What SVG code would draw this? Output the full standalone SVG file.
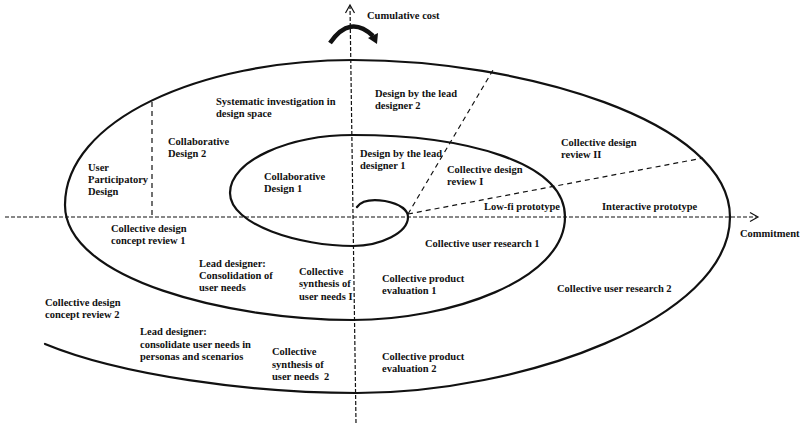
<svg xmlns="http://www.w3.org/2000/svg" width="800" height="426" viewBox="0 0 800 426">
<defs>
<style>
text{font-family:"Liberation Serif","Times New Roman",serif;font-weight:bold;font-size:10.5px;fill:#111}
.axis{stroke:#111;stroke-width:1.2;fill:none;stroke-dasharray:4 2}
.div{stroke:#111;stroke-width:1.2;fill:none;stroke-dasharray:5 4}
.spiral{stroke:#111;stroke-width:2.2;fill:none;stroke-linecap:round}
.head{stroke:#111;stroke-width:1.2;fill:none}
</style>
</defs>
<rect width="800" height="426" fill="#fff"/>
<g id="connectors">
<line class="axis" x1="5" y1="217" x2="757" y2="217"/>
<polyline class="head" points="750,212.5 758,217 750,221.5"/>
<line class="axis" x1="356" y1="423" x2="350" y2="6"/>
<polyline class="head" points="345.5,13 350,5 354.5,13"/>
<line class="div" x1="152" y1="102" x2="152" y2="217"/>
<line class="div" x1="408" y1="214" x2="493" y2="70"/>
<line class="div" x1="408" y1="214" x2="703" y2="158"/>
<path class="spiral" d="M357,207 C362,200 372,199 385,201 C400,204 408,210 408,217 C408,233 380,246 353,246 C300,246 230,225 230,193 C230,160 290,135 353,135 C465,135 565,162 565,217 C565,280 450,320 353,320 C230,320 65,280 65,205 C65,120 200,60 353,60 C520,60 730,120 730,217 C730,320 520,393 357,393 C250,393 120,375 45,344"/>
<path d="M330,43 Q350,14 373,36" stroke="#111" stroke-width="4.5" fill="none"/>
<polygon points="368,38 378,33 377,44" fill="#111"/>
</g>
<g id="n-cost"><text x="367" y="19">Cumulative cost</text></g>
<g id="n-systematic"><text x="216" y="105">Systematic investigation in</text><text x="216" y="117">design space</text></g>
<g id="n-lead2"><text x="375" y="97">Design by the lead</text><text x="375" y="109">designer 2</text></g>
<g id="n-collab2"><text x="168" y="145">Collaborative</text><text x="168" y="157">Design 2</text></g>
<g id="n-upd"><text x="88" y="171">User</text><text x="88" y="183">Participatory</text><text x="88" y="195">Design</text></g>
<g id="n-collab1"><text x="264" y="180">Collaborative</text><text x="264" y="192">Design 1</text></g>
<g id="n-lead1"><text x="360" y="157">Design by the lead</text><text x="360" y="169">designer 1</text></g>
<g id="n-review1"><text x="447" y="173">Collective design</text><text x="447" y="185">review I</text></g>
<g id="n-review2"><text x="561" y="146">Collective design</text><text x="561" y="158">review II</text></g>
<g id="n-lowfi"><text x="484" y="210">Low-fi prototype</text></g>
<g id="n-interactive"><text x="602" y="210">Interactive prototype</text></g>
<g id="n-commitment"><text x="740" y="237">Commitment</text></g>
<g id="n-research1"><text x="425" y="247">Collective user research  1</text></g>
<g id="n-concept1"><text x="111" y="232">Collective design</text><text x="111" y="244">concept review 1</text></g>
<g id="n-consol"><text x="199" y="267">Lead designer:</text><text x="199" y="279">Consolidation of</text><text x="199" y="291">user needs</text></g>
<g id="n-synth1"><text x="299" y="275">Collective</text><text x="299" y="287">synthesis of</text><text x="299" y="300">user needs I</text></g>
<g id="n-eval1"><text x="382" y="282">Collective product</text><text x="382" y="294">evaluation 1</text></g>
<g id="n-research2"><text x="557" y="292">Collective user research  2</text></g>
<g id="n-concept2"><text x="45" y="306">Collective design</text><text x="45" y="318">concept review 2</text></g>
<g id="n-personas"><text x="140" y="335">Lead designer:</text><text x="140" y="348">consolidate user needs in</text><text x="140" y="360">personas and scenarios</text></g>
<g id="n-synth2"><text x="272" y="355">Collective</text><text x="272" y="368">synthesis of</text><text x="272" y="380" xml:space="preserve">user needs  2</text></g>
<g id="n-eval2"><text x="382" y="360">Collective product</text><text x="382" y="372">evaluation 2</text></g>
</svg>
